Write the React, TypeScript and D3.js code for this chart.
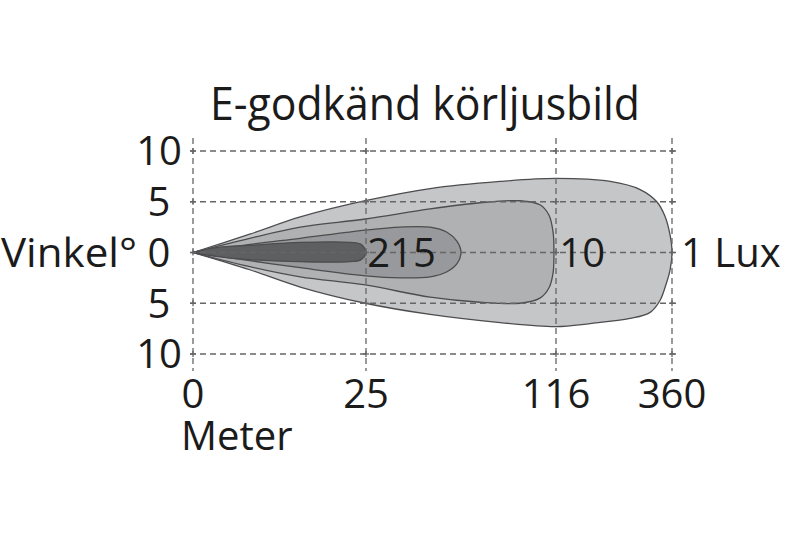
import React from "react";
import * as d3 from "d3";

// Axis values
const distanceTicks = [0, 25, 116, 360]; // meters
const angleTicks = [10, 5, 0, -5, -10]; // degrees

const title = "E-godkänd körljusbild";
const angleLabel = "Vinkel°";
const distanceLabel = "Meter";

// Iso-lux contours as [meters, degrees], traced from origin over the top and back along the bottom
const contour1Lux: [number, number][] = [
  [0, 0], [8.2, 1.8], [15.5, 3.5], [24.9, 5.1], [55.7, 6.3], [89.2, 7.0], [116, 7.3],
  [230, 7.0], [293, 6.2], [328, 5.0], [345, 3.6], [356, 1.7], [360, 0],
  [356, -1.7], [347, -3.2], [335, -4.7], [314, -5.9], [272, -6.5], [188, -7.0],
  [116, -7.3], [89.2, -6.9], [55.7, -6.1], [24.9, -5.0], [15.5, -3.4], [8.2, -1.7], [0, 0],
];

const contour10Lux: [number, number][] = [
  [0, 0], [8.2, 1.4], [15.5, 2.5], [24.9, 3.3], [55.7, 4.3], [79.6, 4.9], [98.8, 5.1],
  [108.3, 4.7], [112.6, 3.7], [114.6, 2.0], [115, 0], [114.6, -2.0], [112.6, -3.5],
  [108.3, -4.5], [98.8, -5.0], [79.6, -4.9], [55.7, -4.4], [24.9, -3.2], [15.5, -2.4],
  [8.2, -1.4], [0, 0],
];

const contour15Lux: [number, number][] = [
  [0, 0], [8.2, 0.8], [15.5, 1.4], [24.9, 2.2], [41.3, 2.5], [55.7, 2.5], [63.8, 2.0],
  [68.6, 1.1], [70.5, 0], [68.6, -1.1], [63.8, -1.9], [55.7, -2.4], [41.3, -2.5],
  [24.9, -2.3], [15.5, -1.5], [8.2, -0.8], [0, 0],
];

const contour2Lux: [number, number][] = [
  [0, 0], [3.6, 0.5], [8.2, 0.7], [15.5, 1.0], [22.7, 1.0], [24.3, 0.8], [25, 0],
  [24.3, -0.7], [22.7, -0.9], [15.5, -0.9], [8.2, -0.7], [3.6, -0.4], [0, 0],
];

const contours = [contour1Lux, contour10Lux, contour15Lux, contour2Lux];
const contourFills = ["#c5c6c8", "#b0b1b3", "#98999c", "#5e5f61"];

// Labels on the centre line: text and the distance (m) it sits at
const contourLabelText = ["215", "10", "1 Lux"];
const contourLabelAt = [42, 171, 360];

const FONT = "'Open Sans', 'Noto Sans', sans-serif";
const INK = "#1b1b1b";

export default function App() {
  const x = d3.scaleLinear().domain(distanceTicks).range([193, 366, 556, 672]);
  const y = d3.scaleLinear().domain([-10, 10]).range([354, 151]);

  const line = d3
    .line<[number, number]>()
    .x((d) => x(d[0]))
    .y((d) => y(d[1]))
    .curve(d3.curveCatmullRom.alpha(0.5));

  const fontSize = 40;
  const capHalf = fontSize * 0.357;

  return (
    <svg
      width={800}
      height={533}
      style={{ position: "absolute", left: 0, top: 0, background: "#fff" }}
    >
      {/* title */}
      <text
        x={425}
        y={120}
        textAnchor="middle"
        fontFamily={FONT}
        fontSize={46}
        fill={INK}
        textLength={430}
        lengthAdjust="spacingAndGlyphs"
      >
        {title}
      </text>

      {/* beam contours */}
      {contours.map((c, i) => (
        <path
          key={i}
          d={line(c) + "Z"}
          fill={contourFills[i]}
          stroke="#4d4d4f"
          strokeWidth={1.3}
          strokeLinejoin="round"
        />
      ))}

      {/* grid */}
      <g stroke="#666" strokeWidth={1.3} fill="none">
        {angleTicks.map((a) => (
          <line
            key={"h" + a}
            x1={x(0) - 3}
            x2={680}
            y1={y(a)}
            y2={y(a)}
            strokeDasharray="6,4"
          />
        ))}
        {distanceTicks.map((m) => (
          <line
            key={"v" + m}
            x1={x(m)}
            x2={x(m)}
            y1={138}
            y2={371}
            strokeDasharray="6,4"
          />
        ))}
        {distanceTicks.map((m) =>
          angleTicks.map((a) => (
            <g key={"c" + m + a}>
              <line x1={x(m) - 3} x2={x(m) + 3} y1={y(a)} y2={y(a)} />
              <line x1={x(m)} x2={x(m)} y1={y(a) - 3} y2={y(a) + 3} />
            </g>
          ))
        )}
      </g>

      <g fontFamily={FONT} fontSize={fontSize} fill={INK}>
        {/* angle axis */}
        {angleTicks.map((a) => (
          <text key={"yl" + a} x={159} y={y(a) + capHalf} textAnchor="middle">
            {Math.abs(a)}
          </text>
        ))}
        <text
          x={1}
          y={y(0) + capHalf}
          textLength={136}
          lengthAdjust="spacingAndGlyphs"
        >
          {angleLabel}
        </text>

        {/* distance axis */}
        {distanceTicks.map((m) => (
          <text key={"xl" + m} x={x(m)} y={408} textAnchor="middle">
            {m}
          </text>
        ))}
        <text x={181} y={450}>
          {distanceLabel}
        </text>

        {/* contour labels */}
        {contourLabelText.map((t, i) =>
          i === 2 ? (
            <text key={t} x={x(contourLabelAt[i]) + 9} y={y(0) + capHalf}>
              {t}
            </text>
          ) : (
            <text
              key={t}
              x={x(contourLabelAt[i])}
              y={y(0) + capHalf}
              textAnchor="middle"
            >
              {t}
            </text>
          )
        )}
      </g>
    </svg>
  );
}
